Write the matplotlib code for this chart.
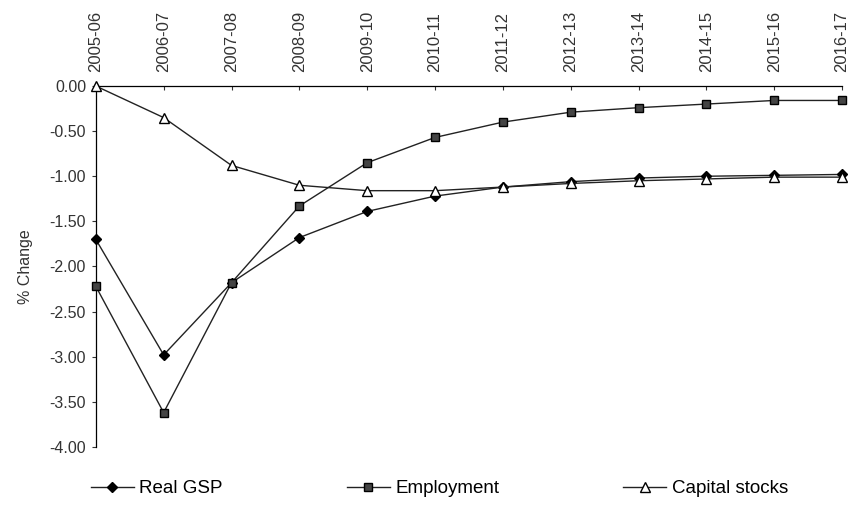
import numpy as np
import matplotlib.pyplot as plt

plt.rcParams['font.family'] = ['Liberation Sans', 'DejaVu Sans']

years = ['2005-06', '2006-07', '2007-08', '2008-09', '2009-10', '2010-11',
         '2011-12', '2012-13', '2013-14', '2014-15', '2015-16', '2016-17']
real_gsp = [-1.70, -2.98, -2.18, -1.68, -1.39, -1.22, -1.12, -1.06, -1.02, -1.00, -0.99, -0.98]
employment = [-2.22, -3.62, -2.18, -1.33, -0.85, -0.57, -0.40, -0.29, -0.24, -0.20, -0.16, -0.16]
capital = [0.00, -0.35, -0.88, -1.10, -1.16, -1.16, -1.12, -1.08, -1.05, -1.03, -1.01, -1.01]

fig = plt.figure(figsize=(8.48, 5.09), dpi=100)
ax = fig.add_axes([0.113, 0.122, 0.880, 0.709])

x = np.arange(len(years))
ax.plot(x, real_gsp, color='#222222', lw=1, marker='D', ms=5,
        mfc='black', mec='black', label='Real GSP', clip_on=False, zorder=3)
ax.plot(x, employment, color='#222222', lw=1, marker='s', ms=6,
        mfc='#444444', mec='black', label='Employment', clip_on=False, zorder=3)
ax.plot(x, capital, color='#222222', lw=1, marker='^', ms=7,
        mfc='white', mec='black', label='Capital stocks', clip_on=False, zorder=4)

ax.set_xlim(0, len(years) - 1)
ax.set_ylim(-4.0, 0.0)
ax.set_yticks(np.arange(-4.0, 0.01, 0.5))
ax.set_yticklabels(['%.2f' % v for v in np.arange(-4.0, 0.01, 0.5)])
ax.set_xticks(x)
ax.set_xticklabels(years, rotation=90)
ax.xaxis.tick_top()
ax.tick_params(axis='x', direction='in', length=3, labelsize=12, pad=10, colors='#333333')
ax.tick_params(axis='y', direction='out', length=3, labelsize=11.5, pad=4, colors='#333333')
for s in ['right', 'bottom']:
    ax.spines[s].set_visible(False)
for s in ['top', 'left']:
    ax.spines[s].set_linewidth(0.9)
ax.set_ylabel('% Change', fontsize=11.5, color='#333333', labelpad=12)

fig.legend(loc='center', bbox_to_anchor=(0.518, 0.04), ncol=3, frameon=False,
           fontsize=13.5, handlelength=2.3, handletextpad=0.3, columnspacing=6.6)

fig.savefig('out.png', dpi=100)
